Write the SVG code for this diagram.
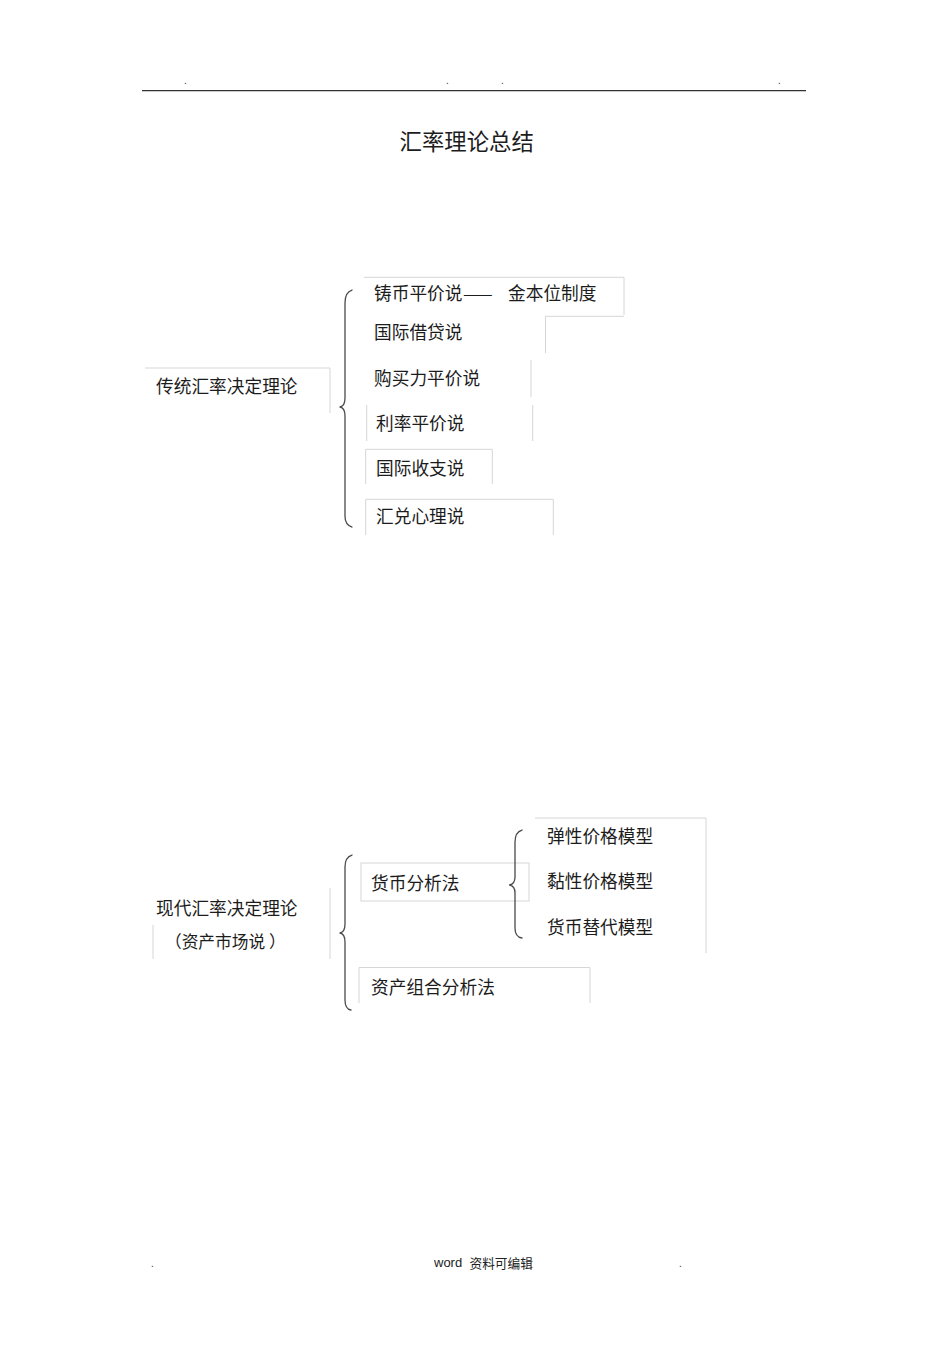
<svg xmlns="http://www.w3.org/2000/svg" width="950" height="1345" viewBox="0 0 950 1345">
<style>
.t{font-family:"Noto Sans CJK SC","Noto Sans",sans-serif;font-size:17.7px;fill:#1c1c1c}
.b{fill:none;stroke:#d6d6d6;stroke-width:1}
.br{fill:none;stroke:#4a4a4a;stroke-width:1.3;stroke-linecap:round;stroke-linejoin:round}
.dot{font-family:"Liberation Sans",sans-serif;font-size:10px;fill:#333}
</style>
<rect width="950" height="1345" fill="#fff"/>
<g id="header">
<line x1="142" y1="90.7" x2="806" y2="90.7" stroke="#333" stroke-width="1.2"/>
<text class="dot" x="184" y="84">.</text>
<text class="dot" x="446" y="84">.</text>
<text class="dot" x="501" y="84">.</text>
<text class="dot" x="778" y="84">.</text>
</g>
<g id="title"><text x="399.5" y="150" style="font-family:'Noto Sans CJK SC',sans-serif;font-size:22.4px;fill:#1c1c1c">汇率理论总结</text></g>

<g id="n-traditional"><path class="b" d="M145,368H330V413"/><text class="t" x="156" y="392.5">传统汇率决定理论</text></g>
<g id="n-mint"><path class="b" d="M364,277.3H624V315"/><text class="t" x="374" y="300">铸币平价说<tspan x="463" letter-spacing="4">——</tspan><tspan x="508">金本位制度</tspan></text></g>
<g id="n-loan"><path class="b" d="M624,316.3H545.5V353"/><text class="t" x="374" y="339.2">国际借贷说</text></g>
<g id="n-ppp"><path class="b" d="M531,360V397"/><text class="t" x="374" y="385">购买力平价说</text></g>
<g id="n-irp"><path class="b" d="M366.7,405V441M532.7,405V441"/><text class="t" x="376" y="430">利率平价说</text></g>
<g id="n-bop"><path class="b" d="M365.7,484V449.3H492.3V484"/><text class="t" x="376" y="475">国际收支说</text></g>
<g id="n-psych"><path class="b" d="M365.7,535V499.3H553.3V535"/><text class="t" x="376" y="522.5">汇兑心理说</text></g>

<g id="n-modern"><path class="b" d="M330,888V959M153,925V959"/><text class="t" x="156" y="914.5">现代汇率决定理论</text><text class="t" x="165" y="948" style="font-size:16.7px">（资产市场说<tspan x="269">）</tspan></text></g>
<g id="n-monetary"><rect class="b" x="361" y="863" width="168" height="38"/><text class="t" x="371" y="889.6">货币分析法</text></g>
<g id="n-models"><path class="b" d="M535,818H706V953"/><text class="t" x="547" y="842.7">弹性价格模型</text><text class="t" x="547" y="887.7">黏性价格模型</text><text class="t" x="547" y="933.7">货币替代模型</text></g>
<g id="n-portfolio"><path class="b" d="M359,1003V967.5H590V1003"/><text class="t" x="371" y="993.7">资产组合分析法</text></g>

<g id="connectors">
<path class="br" d="M352,290Q345,292 345,303L345,398Q345,406 340,407Q345,408 345,416L345,516Q345,525 352,527"/>
<path class="br" d="M352,855Q345,857 345,867L345,924Q345,932 340,933Q345,934 345,942L345,1000Q345,1009 351,1010"/>
<path class="br" d="M522,830Q515,832 515,842L515,877Q515,884 509.5,885Q515,886 515,893L515,928Q515,937 522,938"/>
</g>

<g id="footer">
<text class="dot" x="151" y="1267">.</text>
<text x="434" y="1267" style="font-family:'Liberation Sans',sans-serif;font-size:13px;fill:#222">word</text>
<text x="469.5" y="1267.5" style="font-family:'Noto Sans CJK SC',sans-serif;font-size:12.7px;fill:#222">资料可编辑</text>
<text class="dot" x="679" y="1267">.</text>
</g>
</svg>
